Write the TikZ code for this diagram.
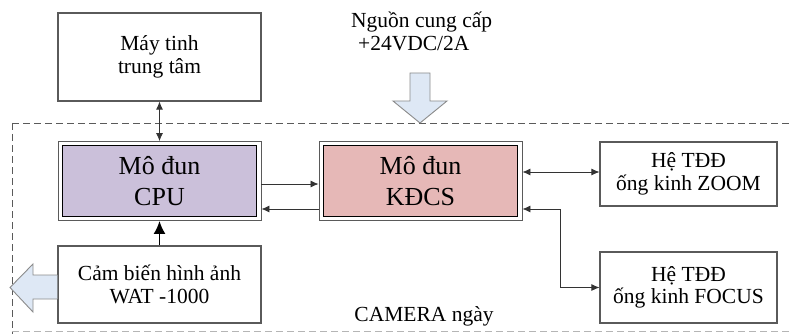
\documentclass[tikz,border=0pt]{standalone}
\usepackage{fontspec}
\setmainfont{Liberation Serif}
\usetikzlibrary{arrows.meta}
\definecolor{cpufill}{RGB}{203,192,218}
\definecolor{kdfill}{RGB}{230,184,183}
\definecolor{bigarrow}{RGB}{222,232,245}
\definecolor{boxline}{RGB}{90,90,90}
\begin{document}
\begin{tikzpicture}[x=1pt,y=-1pt,
  smalltext/.style={font=\fontsize{21.5}{22.5}\selectfont, align=center},
  bigtext/.style={font=\fontsize{26}{31}\selectfont, align=center},
  plainbox/.style={draw=boxline, line width=1.1pt, fill=white, minimum width=203pt, inner sep=0pt, smalltext},
  outerbox/.style={draw=boxline, line width=0.9pt, fill=white, minimum width=203pt, minimum height=79pt, inner sep=0pt},
  innerbox/.style={draw=black, line width=1.8pt, minimum width=194pt, minimum height=71pt, inner sep=0pt, bigtext},
  conn/.style={line width=0.8pt, color=black!80},
  tip/.style={-{Latex[length=8pt,width=7pt]}},
  tips/.style={{Latex[length=8pt,width=7pt]}-{Latex[length=8pt,width=7pt]}},
  hollow/.style={draw=boxline!70, line width=0.9pt, fill=bigarrow, line join=miter}
]
\useasboundingbox (0,0) rectangle (792,334);

% dashed camera frame
\draw[boxline, line width=0.9pt, dash pattern=on 7pt off 4pt] (12,123) -- (800,123);
\draw[boxline, line width=0.9pt, dash pattern=on 7pt off 4pt] (12,123) -- (12,340);
\draw[boxline!45, line width=0.9pt, dash pattern=on 7pt off 4pt] (12,331) -- (800,331);

% boxes
\node[plainbox, minimum height=88pt] (may) at (159.5,57) {Máy tinh\\trung tâm};
\node[outerbox] (cpu) at (159.5,181) {};
\node[innerbox, fill=cpufill] (cpuin) at (cpu.center) {Mô đun\\CPU};
\node[outerbox] (kd) at (420.5,181) {};
\node[innerbox, fill=kdfill] (kdin) at (kd.center) {Mô đun\\KĐCS};
\node[plainbox, minimum width=177pt, minimum height=64pt] (zoom) at (688.5,174) {Hệ TĐĐ\\ống kinh ZOOM};
\node[plainbox, minimum width=177pt, minimum height=71pt] (focus) at (688.5,287.5) {Hệ TĐĐ\\ống kinh FOCUS};
\node[plainbox, minimum height=77pt] (cam) at (159.5,284.5) {Cảm biến hình ảnh\\WAT -1000};

% labels
\node[smalltext, anchor=north west, align=left, inner sep=0pt] (pwr) at (351,12) {Nguồn cung cấp\\\hspace*{7pt}+24VDC/2A};
\node[smalltext, inner sep=0pt] (camlabel) at (424,316) {CAMERA ngày};

% helper coordinates
\coordinate (r184) at (0,184);
\coordinate (r209) at (0,209);
\coordinate (r172) at (0,172);
\coordinate (c560) at (560,0);

% connectors
\draw[conn, tips] (may.south) -- (cpu.north);
\draw[conn, tip] (cpu.east |- r184) -- (kd.west |- r184);
\draw[conn, tip] (kd.west |- r209) -- (cpu.east |- r209);
\draw[conn, tips] (kd.east |- r172) -- (zoom.west |- r172);
\draw[conn, tips] (kd.east |- r209) -- (c560 |- r209) -- (c560 |- focus.west) -- (focus.west);
\draw[black, line width=1.7pt, -{Latex[length=13pt,width=12pt]}] (cam.north) -- (cpu.south);

% power arrow
\draw[hollow] (410,73) -- (430,73) -- (430,101) -- (447,101) -- (420,123) -- (393,101) -- (410,101) -- cycle;
% output arrow
\draw[hollow] (cam.west |- 0,275) -- (33,275) -- (33,264) -- (10,287.5) -- (33,312) -- (33,299) -- (cam.west |- 0,299);
\end{tikzpicture}
\end{document}
